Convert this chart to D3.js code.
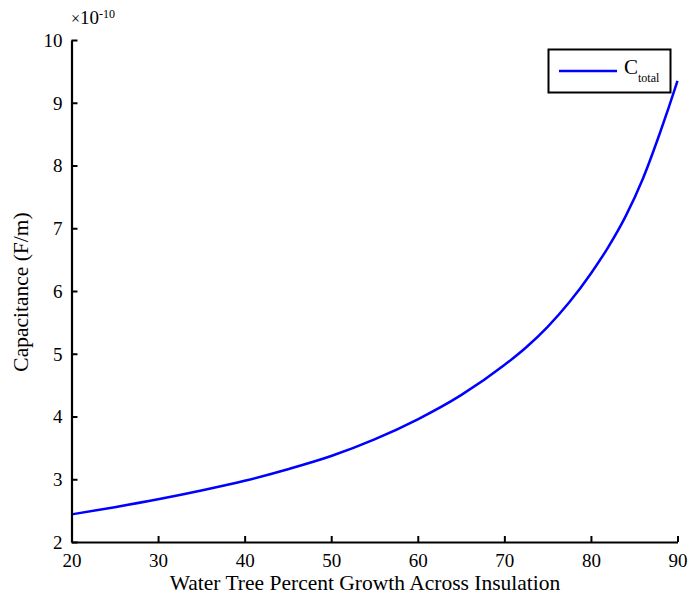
<!DOCTYPE html>
<html><head><meta charset="utf-8">
<script src="https://cdn.jsdelivr.net/npm/d3@7"></script>
<style>body{margin:0;background:#fff}svg{display:block}</style>
</head><body>
<svg id="c" width="696" height="598"></svg>
<script>
const growth = [20,25,30,35,40,45,50,55,60,65,70,72.5,75,77.5,80,82,84,86,88,89,90];
const capacitance = [2.44,2.555,2.68,2.82,2.975,3.16,3.37,3.635,3.955,4.34,4.82,5.10,5.43,5.82,6.28,6.70,7.19,7.79,8.53,8.93,9.35];
const xTicks = [20,30,40,50,60,70,80,90];
const yTicks = [2,3,4,5,6,7,8,9,10];
const xLabel = "Water Tree Percent Growth Across Insulation";
const yLabel = "Capacitance (F/m)";
const seriesName = "C";
const seriesSub = "total";
const FONT = "'Liberation Serif', 'Times New Roman', serif";

const svg = d3.select("#c");
const L=71.5, R=677.5, T=40, B=542;
const x = d3.scaleLinear().domain([20,90]).range([L,R]);
const y = d3.scaleLinear().domain([2,10]).range([B,T]);

// curve
const line = d3.line().x((d,i)=>x(growth[i])).y(d=>y(d)).curve(d3.curveMonotoneX);
svg.append("path").datum(capacitance).attr("d",line).attr("fill","none")
  .attr("stroke","#0000ff").attr("stroke-width",2.5);

// x axis
const gx = svg.append("g").attr("transform",`translate(0,${B})`)
  .call(d3.axisBottom(x).tickValues(xTicks).tickSizeInner(-6).tickSizeOuter(0).tickPadding(0));
gx.select(".domain").attr("stroke","#000").attr("stroke-width",2.2);
gx.selectAll(".tick line").attr("stroke","#000").attr("stroke-width",2);
gx.selectAll(".tick text").style("font-family",FONT).style("font-size","19px")
  .attr("y",25).attr("dy",0).attr("fill","#000");

const gy = svg.append("g").attr("transform",`translate(${L},0)`)
  .call(d3.axisLeft(y).tickValues(yTicks).tickSizeInner(-6).tickSizeOuter(0).tickPadding(0));
gy.select(".domain").attr("stroke","#000").attr("stroke-width",2.2);
gy.selectAll(".tick line").attr("stroke","#000").attr("stroke-width",2);
gy.selectAll(".tick text").style("font-family",FONT).style("font-size","19px")
  .attr("x",-9).attr("dy","0.33em").attr("fill","#000");

// exponent
const ex = svg.append("text").attr("x",71).attr("y",24).style("font-family",FONT).style("font-size","19px");
ex.append("tspan").text("×").style("font-size","16px");
ex.append("tspan").text("10");
ex.append("tspan").text("-10").style("font-size","12px").attr("dy",-6);

// labels
svg.append("text").attr("x",365).attr("y",590).attr("text-anchor","middle")
  .style("font-family",FONT).style("font-size","21.5px").text(xLabel);
svg.append("text").attr("transform",`translate(28,292) rotate(-90)`).attr("text-anchor","middle")
  .style("font-family",FONT).style("font-size","21.5px").text(yLabel);

// legend
const lg = svg.append("g");
lg.append("rect").attr("x",548.5).attr("y",49.5).attr("width",122).attr("height",43)
  .attr("fill","#fff").attr("stroke","#000").attr("stroke-width",2);
lg.append("line").attr("x1",559).attr("x2",617).attr("y1",71).attr("y2",71)
  .attr("stroke","#0000ff").attr("stroke-width",2.5);
const lt = lg.append("text").attr("x",624).attr("y",74).style("font-family",FONT).style("font-size","21px");
lt.append("tspan").text(seriesName);
lt.append("tspan").text(seriesSub).style("font-size","12px").attr("dy",7.5);
</script>
</body></html>
